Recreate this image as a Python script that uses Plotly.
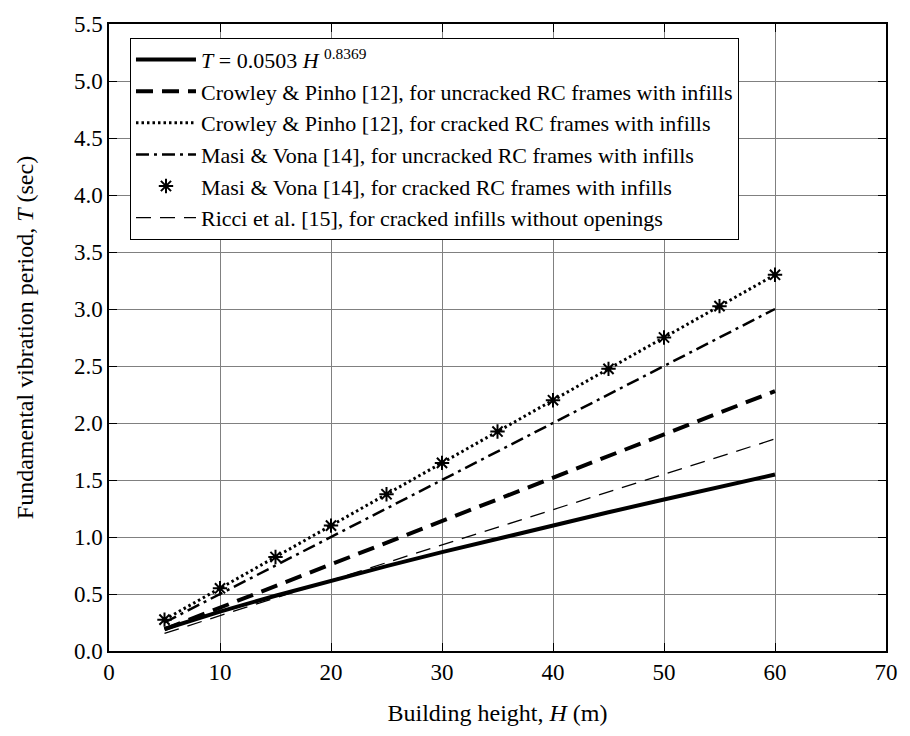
import plotly.graph_objects as go

H = [5, 10, 15, 20, 25, 30, 35, 40, 45, 50, 55, 60]
T_prop = [0.193, 0.346, 0.485, 0.617, 0.744, 0.867, 0.986, 1.103, 1.217, 1.329, 1.439, 1.548]
T_cp_unc = [0.19, 0.38, 0.57, 0.76, 0.95, 1.14, 1.33, 1.52, 1.71, 1.90, 2.09, 2.28]
T_cp_cr = [0.275, 0.55, 0.825, 1.10, 1.375, 1.65, 1.925, 2.20, 2.475, 2.75, 3.025, 3.30]
T_mv_unc = [0.25, 0.50, 0.75, 1.00, 1.25, 1.50, 1.75, 2.00, 2.25, 2.50, 2.75, 3.00]
T_mv_cr = [0.275, 0.55, 0.825, 1.10, 1.375, 1.65, 1.925, 2.20, 2.475, 2.75, 3.025, 3.30]
T_ricci = [0.155, 0.31, 0.465, 0.62, 0.775, 0.93, 1.085, 1.24, 1.395, 1.55, 1.705, 1.86]

names = [
    "<i>T</i> = 0.0503 <i>H</i> <sup>0.8369</sup>",
    "Crowley & Pinho [12], for uncracked RC frames with infills",
    "Crowley & Pinho [12], for cracked RC frames with infills",
    "Masi & Vona [14], for uncracked RC frames with infills",
    "Masi & Vona [14], for cracked RC frames with infills",
    "Ricci et al. [15], for cracked infills without openings",
]

FONT = "'Liberation Serif', 'Times New Roman', Times, serif"

fig = go.Figure()
fig.add_trace(go.Scatter(x=H, y=T_prop, mode="lines", name=names[0],
                         line=dict(color="black", width=4)))
fig.add_trace(go.Scatter(x=H, y=T_cp_unc, mode="lines", name=names[1],
                         line=dict(color="black", width=4, dash="17px,9px")))
fig.add_trace(go.Scatter(x=H, y=T_cp_cr, mode="lines", name=names[2],
                         line=dict(color="black", width=3, dash="2.5px,3px")))
fig.add_trace(go.Scatter(x=H, y=T_mv_unc, mode="lines", name=names[3],
                         line=dict(color="black", width=2.5, dash="13px,5px,3px,5px")))
fig.add_trace(go.Scatter(x=H, y=T_mv_cr, mode="markers", name=names[4],
                         marker=dict(symbol="asterisk-open", size=12, color="black",
                                     line=dict(color="black", width=2))))
fig.add_trace(go.Scatter(x=H, y=T_ricci, mode="lines", name=names[5],
                         line=dict(color="black", width=1.3, dash="15px,9px")))

axis_common = dict(showline=True, linecolor="black", linewidth=1.5, mirror="ticks",
                   ticks="inside", ticklen=8, tickcolor="black",
                   showgrid=True, gridcolor="#808080", gridwidth=1,
                   zeroline=False,
                   tickfont=dict(family=FONT, size=23, color="black"))

fig.update_xaxes(range=[0, 70], dtick=10, tick0=0,
                 title=dict(text="Building height, <i>H</i> (m)",
                            font=dict(family=FONT, size=24, color="black"),
                            standoff=20),
                 **axis_common)
fig.update_yaxes(range=[0, 5.5], dtick=0.5, tick0=0, tickformat=".1f",
                 title=dict(text="Fundamental vibration period, <i>T</i> (sec)",
                            font=dict(family=FONT, size=24, color="black"),
                            standoff=34),
                 **axis_common)

fig.update_layout(
    width=910, height=736,
    margin=dict(l=109, r=14, t=19, b=85),
    plot_bgcolor="white", paper_bgcolor="white",
    legend=dict(x=0.027, y=0.978, xanchor="left", yanchor="top",
                bgcolor="white", bordercolor="black", borderwidth=1,
                font=dict(family=FONT, size=22, color="black"),
                itemwidth=60, tracegroupgap=0),
    showlegend=True,
)

fig.write_html("out.html")
